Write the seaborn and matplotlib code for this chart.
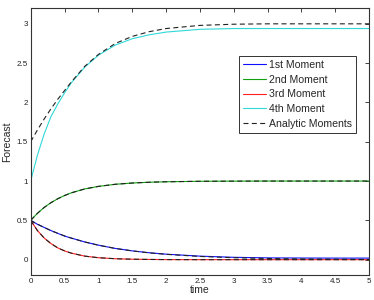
import numpy as np
import pandas as pd
import matplotlib
matplotlib.use("Agg")
import matplotlib.pyplot as plt
import seaborn as sns

# time grid the values were read on
t = [0, 0.1, 0.2, 0.3, 0.4, 0.5, 0.6, 0.8, 1.0, 1.25, 1.5, 1.75, 2.0, 2.5, 3.0, 3.5, 4.0, 4.5, 5.0]

# simulated moments
m1 = [0.5, 0.45, 0.41, 0.37, 0.335, 0.30, 0.275, 0.225, 0.185, 0.143, 0.112, 0.088, 0.07, 0.045, 0.03, 0.023, 0.021, 0.02, 0.02]
m2 = [0.5, 0.59, 0.665, 0.725, 0.775, 0.816, 0.85, 0.9, 0.932, 0.959, 0.975, 0.985, 0.991, 0.997, 0.999, 1.0, 1.0, 1.0, 1.0]
m3 = [0.5, 0.37, 0.275, 0.205, 0.15, 0.112, 0.083, 0.045, 0.025, 0.012, 0.006, 0.003, 0.001, 0, 0, 0, 0, 0, 0]
m4 = [1.0, 1.33, 1.6, 1.82, 1.98, 2.12, 2.25, 2.45, 2.6, 2.73, 2.81, 2.86, 2.895, 2.93, 2.94, 2.94, 2.94, 2.94, 2.94]

# analytic moments
a1 = [0.5, 0.452, 0.409, 0.37, 0.335, 0.303, 0.274, 0.225, 0.184, 0.143, 0.112, 0.087, 0.068, 0.041, 0.025, 0.015, 0.009, 0.006, 0.003]
a2 = m2
a3 = m3
a4 = [1.5, 1.65, 1.79, 1.92, 2.04, 2.15, 2.26, 2.46, 2.61, 2.75, 2.84, 2.9, 2.94, 2.98, 2.995, 3.0, 3.0, 3.0, 3.0]

labels = ['1st Moment', '2nd Moment', '3rd Moment', '4th Moment']
colors = ['#1010ff', '#10a010', '#ff2020', '#30d8d8']

sns.set_style("white")
plt.rcParams['font.family'] = ['Liberation Sans', 'DejaVu Sans']

fig = plt.figure(figsize=(3.74, 3.0), dpi=100)
ax = fig.add_axes([0.082, 0.082, 0.905, 0.891])

for y, lab, c in zip([m1, m2, m3, m4], labels, colors):
    sns.lineplot(x=t, y=y, color=c, lw=0.8, label=lab, ax=ax)

for i, y in enumerate([a1, a2, a3, a4]):
    sns.lineplot(x=t, y=y, color='#222222', lw=0.8, ax=ax,
                 label='Analytic Moments' if i == 0 else None)
    ax.lines[-1].set_dashes([4.5, 3])

ax.set_xlim(0, 5)
ax.set_ylim(-0.2, 3.2)
ax.set_xticks(np.arange(0, 5.01, 0.5))
ax.set_xticklabels(['0', '0.5', '1', '1.5', '2', '2.5', '3', '3.5', '4', '4.5', '5'])
ax.set_yticks(np.arange(0, 3.01, 0.5))
ax.set_yticklabels(['0', '0.5', '1', '1.5', '2', '2.5', '3'])
ax.tick_params(direction='in', length=3, width=0.6, labelsize=5.8, pad=2,
               top=True, right=True, colors='#222222')
for s in ax.spines.values():
    s.set_color('#333333')
    s.set_linewidth(0.8)
ax.set_xlabel('time', fontsize=7.5, labelpad=0)
ax.set_ylabel('Forecast', fontsize=7.5, labelpad=3)

leg = ax.legend(loc='upper right', bbox_to_anchor=(0.96, 0.82), fontsize=7.6,
                fancybox=False, framealpha=1, edgecolor='#333333',
                handlelength=2.2, handletextpad=0.3, labelspacing=0.45,
                borderpad=0.35, borderaxespad=0)
leg.get_frame().set_linewidth(0.7)

fig.savefig('out.png', dpi=100)
